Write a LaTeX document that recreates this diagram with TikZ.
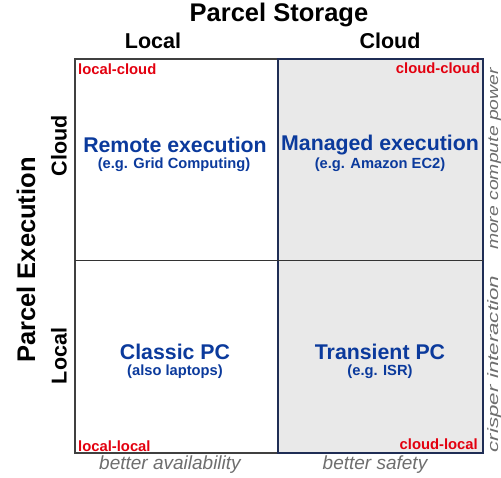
\documentclass[tikz,border=0pt]{standalone}
\usepackage{graphicx}
\usepackage{fontspec}
\setmainfont{Liberation Sans}
\begin{document}
\begin{tikzpicture}[x=1pt,y=-1pt,
  hdr/.style={font=\bfseries\fontsize{21.5}{24}\selectfont},
  big/.style={font=\bfseries\fontsize{25.5}{28}\selectfont},
  main/.style={font=\bfseries\fontsize{21.3}{24}\selectfont, text=blueT},
  sub/.style={font=\bfseries\fontsize{14.7}{17}\selectfont, text=blueT},
  tag/.style={font=\bfseries\fontsize{14.8}{17}\selectfont, text=redT, inner sep=0pt},
  note/.style={font=\itshape\fontsize{19}{21}\selectfont, text=grayT, inner sep=0pt},
  side/.style={font=\itshape\fontsize{15}{17}\selectfont, text=grayT, inner sep=0pt, rotate=90, anchor=base}]
\definecolor{blueT}{HTML}{0B3A9C}
\definecolor{redT}{HTML}{E3000F}
\definecolor{grayT}{HTML}{6E6E6E}
\definecolor{fillG}{HTML}{E9E9E9}
\definecolor{navyB}{HTML}{1F2D55}
\useasboundingbox (0,0) rectangle (501,477);
% cells
\fill[fillG] (278,59) rectangle (483,453);
\draw[line width=1.2pt, black!75] (75,59) rectangle (278,453);
\draw[line width=1.2pt, navyB] (278,59) rectangle (483,453);
\draw[line width=1pt, black!80] (75,260) -- (483,260);
% headers
\node[big] (ps) at (279,15) {Parcel Storage};
\node[hdr] (sl) at (153,41) {Local};
\node[hdr] (sc) at (390,41) {Cloud};
\node[big, rotate=90] (pe) at (26,260) {Parcel Execution};
\node[hdr, rotate=90] (ec) at (59,146) {Cloud};
\node[hdr, rotate=90] (el) at (59,356) {Local};
% corner tags
\node[tag, anchor=west] (lc) at (78,69) {local-cloud};
\node[tag, anchor=east] (cc) at (480,68) {cloud-cloud};
\node[tag, anchor=west] (ll) at (78,446) {local-local};
\node[tag, anchor=east] (cl) at (478,444) {cloud-local};
% cell contents
\node[main] (re) at (175,145) {Remote execution};
\node[sub] (res) at (174,165) {(e.g. Grid Computing)};
\node[main] (me) at (380,145) {Managed execution};
\node[sub] (mes) at (380,165) {(e.g. Amazon EC2)};
\node[main] (cp) at (175,352) {Classic PC};
\node[sub] (cps) at (175,372) {(also laptops)};
\node[main] (tp) at (380,352) {Transient PC};
\node[sub] (tps) at (380,372) {(e.g. ISR)};
% notes
\node[note] (ba) at (170,465) {better availability};
\node[note] (bs) at (375,465) {better safety};
\node[side] (mc) at (498,159) {\scalebox{1.29}[1]{more compute power}};
\node[side] (ci) at (498,364) {\scalebox{1.49}[1]{crisper interaction}};
\end{tikzpicture}
\end{document}
